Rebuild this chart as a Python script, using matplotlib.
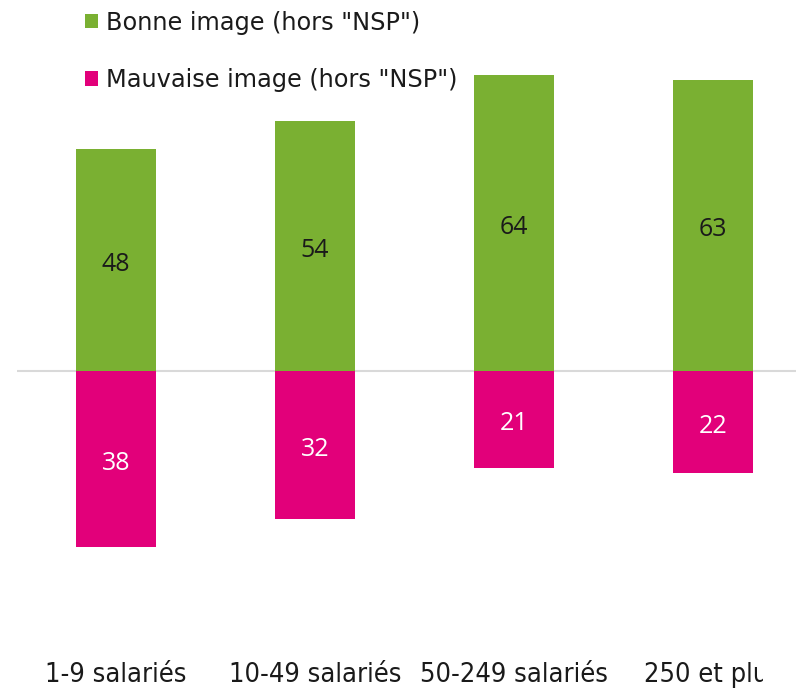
import matplotlib
matplotlib.use('Agg')
import matplotlib.pyplot as plt
from matplotlib.transforms import Bbox
import numpy as np

# ── Data ──────────────────────────────────────
categories = ['1-9 salariés', '10-49 salariés', '50-249 salariés', '250 et plus']
bonne      = [48, 54, 64, 63]
mauvaise   = [38, 32, 21, 22]
labels     = ['Bonne image (hors "NSP")', 'Mauvaise image (hors "NSP")']

GREEN   = '#7AB032'
MAGENTA = '#E2007A'

fig = plt.figure(figsize=(7.96, 6.94), dpi=100)
# axes runs past the right edge, like the original export (last label cut)
ax = fig.add_axes([16.5 / 796, 0, 796 / 796, 1])
ax.set_xlim(-0.5, len(categories) - 0.5)
ax.set_ylim(-(694 - 371) / 4.625, 371 / 4.625)
ax.axis('off')

x = np.arange(len(categories))
w = 0.4
b1 = ax.bar(x, bonne, w, color=GREEN, label=labels[0], zorder=2)
b2 = ax.bar(x, [-v for v in mauvaise], w, color=MAGENTA, label=labels[1], zorder=2)
ax.axhline(0, color='#D9D9D9', linewidth=1.5, zorder=1)

for xi, v in zip(x, bonne):
    ax.text(xi, v / 2 - 0.9, f'{v}', ha='center', va='center', fontsize=18,
            family='Open Sans', color='#1A1A1A', zorder=3)
for xi, v in zip(x, mauvaise):
    ax.text(xi, -v / 2 - 0.9, f'{v}', ha='center', va='center', fontsize=18,
            family='Open Sans', color='white', zorder=3)

clip = Bbox.from_extents(0, 0, 763, 694)
for xi, c in zip(x, categories):
    t = ax.text(xi, -67.3, c, ha='center', va='baseline', fontsize=19.5,
                family='DejaVu Sans', fontstretch='condensed', color='#1A1A1A')
    t.set_clip_box(clip)
    t.set_clip_on(True)

fig.legend(handles=[b1, b2], labels=labels, loc='upper left',
           bbox_to_anchor=(68 / 796, 1.009), frameon=False,
           prop={'family': 'DejaVu Sans', 'size': 17.3},
           handlelength=0.55, handleheight=0.55, handletextpad=0.35,
           labelspacing=1.4, borderaxespad=0.3, labelcolor='#1A1A1A')

fig.savefig('out.png', dpi=100)
